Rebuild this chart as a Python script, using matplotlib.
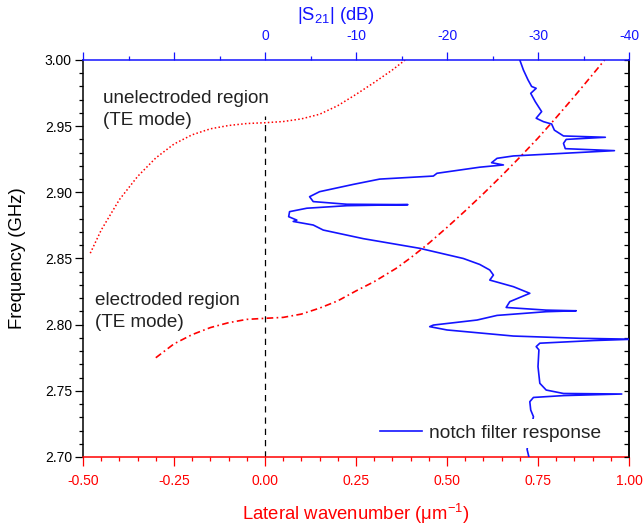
import matplotlib
matplotlib.use("Agg")
import matplotlib.pyplot as plt
from matplotlib.ticker import MultipleLocator, FixedLocator, FuncFormatter

plt.rcParams['font.family'] = ['Liberation Sans', 'DejaVu Sans']

# --- données ---
# mode TE, région non électrodée (pointillé)
k_unelec = [-0.48, -0.45, -0.40, -0.35, -0.30, -0.25, -0.20, -0.15, -0.10, -0.05, 0.0,
            0.05, 0.10, 0.15, 0.20, 0.25, 0.30, 0.35, 0.385]
f_unelec = [2.854, 2.8715, 2.8945, 2.912, 2.926, 2.9365, 2.9435, 2.948, 2.9505, 2.952,
            2.9526, 2.9535, 2.9555, 2.959, 2.9655, 2.974, 2.983, 2.9925, 3.000]

# mode TE, région électrodée (tiret-point)
k_elec = [-0.30, -0.25, -0.20, -0.15, -0.10, -0.05, 0.0, 0.05, 0.10, 0.15, 0.20, 0.25,
          0.30, 0.36, 0.40, 0.45, 0.50, 0.55, 0.60, 0.65, 0.70, 0.75, 0.80, 0.85, 0.90,
          0.933]
f_elec = [2.775, 2.7855, 2.7925, 2.7978, 2.8015, 2.804, 2.8048, 2.8055, 2.808, 2.8125,
          2.818, 2.8255, 2.8325, 2.8425, 2.8505, 2.8615, 2.8735, 2.886, 2.899, 2.9125,
          2.9265, 2.941, 2.9565, 2.9725, 2.989, 3.000]

# réponse du filtre coupe-bande |S21| (dB)
f_notch = [3.000, 2.9924, 2.985, 2.980, 2.9786, 2.9748, 2.9685, 2.961, 2.956, 2.9534,
           2.9516, 2.947, 2.9426, 2.9416, 2.940, 2.937, 2.933, 2.9315, 2.9275, 2.9257,
           2.9224, 2.9207, 2.919, 2.9144, 2.9123, 2.910, 2.906, 2.9005, 2.8967, 2.893,
           2.891, 2.8907, 2.8899, 2.888, 2.8854, 2.8816, 2.879, 2.878, 2.8753, 2.8715,
           2.865, 2.8577, 2.850, 2.8455, 2.8413, 2.8375, 2.8337, 2.8287, 2.8237, 2.8174,
           2.813, 2.811, 2.8105, 2.8098, 2.807, 2.8035, 2.7997, 2.7985, 2.796, 2.7914,
           2.7897, 2.789, 2.788, 2.786, 2.7834, 2.781, 2.7683, 2.7557, 2.7506, 2.748,
           2.7476, 2.7464, 2.745, 2.7418, 2.7355, 2.7305, 2.7058, 2.700]
s21_db = [-28.0, -28.4, -28.9, -29.3, -29.8, -29.2, -29.7, -30.4, -29.8, -30.6,
          -31.5, -31.8, -32.8, -37.4, -33.1, -32.8, -33.0, -38.4, -27.3, -25.5,
          -24.9, -26.2, -23.6, -18.9, -18.5, -12.6, -9.7, -6.0, -4.9, -5.3,
          -9.0, -15.7, -9.0, -4.6, -2.7, -2.6, -3.5, -3.1, -5.3, -6.4,
          -10.8, -17.0, -21.8, -23.6, -24.7, -25.1, -24.7, -27.3, -29.1, -26.9,
          -26.5, -30.9, -34.2, -30.9, -25.5, -23.3, -18.5, -18.1, -20.0, -27.3,
          -34.6, -40.5, -36.1, -30.2, -29.8, -30.1, -30.0, -30.2, -30.9, -32.8,
          -39.2, -32.8, -29.5, -29.1, -29.2, -29.5, -28.8, -29.0]

rouge = "#FF0000"
bleu = "#1414FF"

fig = plt.figure(figsize=(6.44, 5.25), dpi=100)
ax = fig.add_axes([83 / 644, 68 / 525, 546 / 644, 397 / 525])

# courbes de dispersion
ax.plot(k_unelec, f_unelec, color=rouge, lw=1.1, linestyle=(0, (1, 1.5)))
ax.plot(k_elec, f_elec, color=rouge, lw=1.2, linestyle=(0, (4, 2, 1, 2)))
ax.plot([0, 0], [2.70, 2.958], color="k", lw=0.9, linestyle=(0, (5, 4)))

ax.set_xlim(-0.5, 1.0)
ax.set_ylim(2.70, 3.00)

ax.text(-0.445, 2.9772, "unelectroded region\n(TE mode)", fontsize=13.6, va="top",
        ha="left", color="#222222", linespacing=1.4)
ax.text(-0.467, 2.8245, "electroded region\n(TE mode)", fontsize=13.6, va="top",
        ha="left", color="#222222", linespacing=1.4)

# axe du bas (rouge)
ax.xaxis.set_major_locator(MultipleLocator(0.25))
ax.xaxis.set_minor_locator(MultipleLocator(0.05))
ax.xaxis.set_major_formatter(FuncFormatter(lambda v, p: "%.2f" % v))
ax.tick_params(axis="x", which="major", direction="out", length=6.5, width=0.9,
               colors=rouge, labelsize=10, pad=6)
ax.tick_params(axis="x", which="minor", direction="out", length=3.2, width=0.9, colors=rouge)
ax.set_xlabel("Lateral wavenumber (μm$^{\\mathregular{-1}}$)", color=rouge, fontsize=13.3)
ax.xaxis.set_label_coords(0.5, -0.112)

# axe de gauche
ax.yaxis.set_major_locator(MultipleLocator(0.05))
ax.yaxis.set_minor_locator(MultipleLocator(0.01))
ax.yaxis.set_major_formatter(FuncFormatter(lambda v, p: "%.2f" % v))
ax.tick_params(axis="y", which="major", direction="out", length=6, width=0.9,
               labelsize=10, pad=2)
ax.tick_params(axis="y", which="minor", direction="out", length=3, width=0.9)
ax.set_ylabel("Frequency (GHz)", fontsize=13.3)
ax.yaxis.set_label_coords(-0.105, 0.5)

ax.spines["bottom"].set_color(rouge)
ax.spines["top"].set_visible(False)
for s in ax.spines.values():
    s.set_linewidth(1.1)

# ticks intérieurs à droite
axr = ax.twinx()
axr.set_ylim(2.70, 3.00)
axr.yaxis.set_major_locator(MultipleLocator(0.05))
axr.yaxis.set_minor_locator(MultipleLocator(0.01))
axr.tick_params(axis="y", which="both", direction="in", length=3.5, width=0.9,
                labelright=False)
for nom, s in axr.spines.items():
    s.set_visible(nom == "right")
    s.set_linewidth(1.1)

# axe du haut : |S21| en dB
axt = ax.twiny()
axt.set_xlim(20, -40)
axt.set_ylim(2.70, 3.00)
axt.plot(s21_db, f_notch, color=bleu, lw=1.2, label="notch filter response")
axt.xaxis.set_major_locator(FixedLocator([20, 10, 0, -10, -20, -30, -40]))
axt.xaxis.set_minor_locator(MultipleLocator(5))
axt.xaxis.set_major_formatter(FuncFormatter(lambda v, p: "" if v > 0 else "%d" % v))
axt.tick_params(axis="x", which="major", direction="out", length=6, width=0.9,
                colors=bleu, labelsize=10, pad=6)
axt.tick_params(axis="x", which="minor", direction="out", length=3.2, width=0.9, colors=bleu)
axt.set_xlabel("|S$_{\\mathregular{21}}$| (dB)", color=bleu, fontsize=13.3)
axt.xaxis.set_label_coords(0.463, 1.1)
for nom, s in axt.spines.items():
    s.set_visible(nom == "top")
    s.set_color(bleu)
    s.set_linewidth(1.1)

leg = axt.legend(loc="center right", bbox_to_anchor=(0.959, 0.06), fontsize=13.8,
                 frameon=True, facecolor="white", edgecolor="none", framealpha=1,
                 fancybox=False, borderpad=0.3, borderaxespad=0, handlelength=2.2,
                 handletextpad=0.36)
for t in leg.get_texts():
    t.set_color("#222222")

fig.savefig("out.png", dpi=100)
